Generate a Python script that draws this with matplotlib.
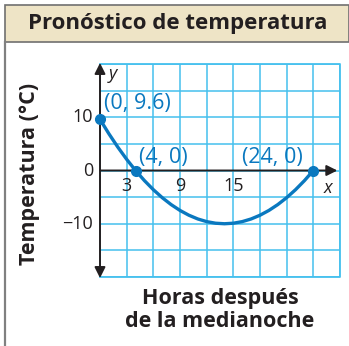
import matplotlib
matplotlib.use("Agg")
import matplotlib.pyplot as plt
from matplotlib.patches import Rectangle
from matplotlib.lines import Line2D

plt.rcParams["font.family"] = ["Open Sans", "DejaVu Sans"]

# Data
hours = [0, 1, 2, 3, 4, 5, 6, 7, 8, 9, 10, 11, 12, 13, 14, 15, 16, 17, 18, 19, 20, 21, 22, 23, 24]
temps = [9.6, 6.9, 4.4, 2.1, 0, -1.9, -3.6, -5.1, -6.4, -7.5, -8.4, -9.1, -9.6, -9.9, -10,
         -9.9, -9.6, -9.1, -8.4, -7.5, -6.4, -5.1, -3.6, -1.9, 0]
point_x = [0, 4, 24]
point_y = [9.6, 0, 0]
point_labels = ["(0, 9.6)", "(4, 0)", "(24, 0)"]
x_ticks = [3, 9, 15]
y_ticks = [10, 0, -10]
title = "Pronóstico de temperatura"
ylabel = "Temperatura (°C)"
xlabel = "Horas después\nde la medianoche"

W, H = 349, 346
blue = "#0a78bf"
grid_col = "#45c0ee"
ink = "#231f20"

fig = plt.figure(figsize=(W / 100, H / 100), dpi=100)

def fx(px):
    return px / W

def fy(py):
    return 1 - py / H

# Frame and header
fig.patches.append(Rectangle((fx(5), fy(42)), fx(349) - fx(5), fy(5) - fy(42),
                             transform=fig.transFigure, facecolor="#eee4c6",
                             edgecolor="#707070", lw=1.2))
fig.lines.append(Line2D([fx(5), fx(5)], [fy(42), 0], transform=fig.transFigure,
                        color="#808080", lw=1.6))
fig.text(fx(178), fy(24), title, ha="center", va="center", fontsize=16,
         fontweight="bold", color=ink)

ax = fig.add_axes([fx(100), fy(277), fx(340) - fx(100), fy(64) - fy(277)])
ax.set_xlim(0, 27)
ax.set_ylim(-20, 20)
ax.set_xticks(range(0, 28, 3))
ax.set_yticks(range(-20, 21, 5))
ax.grid(True, color=grid_col, lw=1.1)
ax.tick_params(length=0, labelbottom=False, labelleft=False)
for s in ax.spines.values():
    s.set_visible(False)
ax.plot([0, 27, 27, 0], [-20, -20, 20, 20], color=grid_col, lw=1.3, clip_on=False)

# Axes with arrows
ax.annotate("", xy=(0, 20.2), xytext=(0, -20.2), annotation_clip=False,
            arrowprops=dict(arrowstyle="<|-|>", color=ink, lw=1.4,
                            mutation_scale=16, shrinkA=0, shrinkB=0))
ax.annotate("", xy=(26.7, 0), xytext=(0, 0), annotation_clip=False,
            arrowprops=dict(arrowstyle="-|>", color=ink, lw=1.4,
                            mutation_scale=16, shrinkA=0, shrinkB=0))
ax.text(1.4, 18.2, "y", style="italic", fontsize=13, ha="center", va="center", color=ink)
ax.text(25.6, -3.2, "x", style="italic", fontsize=13, ha="center", va="center", color=ink)

for t in x_ticks:
    ax.text(t, -2.9, str(t), ha="center", va="center", fontsize=13, color=ink)
for t in y_ticks:
    lab = str(t).replace("-", "\u2212")
    ax.text(-0.8, t, lab, ha="right", va="center", fontsize=13, color=ink,
            clip_on=False)

ax.plot(hours, temps, color=blue, lw=2.4, clip_on=False)
ax.plot(point_x, point_y, "o", color=blue, ms=7, clip_on=False, zorder=5)

label_pos = [(0.4, 12.6), (4.4, 2.4), (16.0, 2.4)]
for (lx, ly), lab in zip(label_pos, point_labels):
    ax.text(lx, ly, lab, ha="left", va="center", fontsize=15.5, color=blue)

fig.text(fx(30), fy(174), ylabel, rotation=90, ha="center", va="center",
         fontsize=15.5, fontweight="bold", color=ink)
fig.text(fx(220), fy(310), xlabel, ha="center", va="center", fontsize=15.5,
         fontweight="bold", color=ink, linespacing=1.1)

fig.savefig("out.png", dpi=100)
